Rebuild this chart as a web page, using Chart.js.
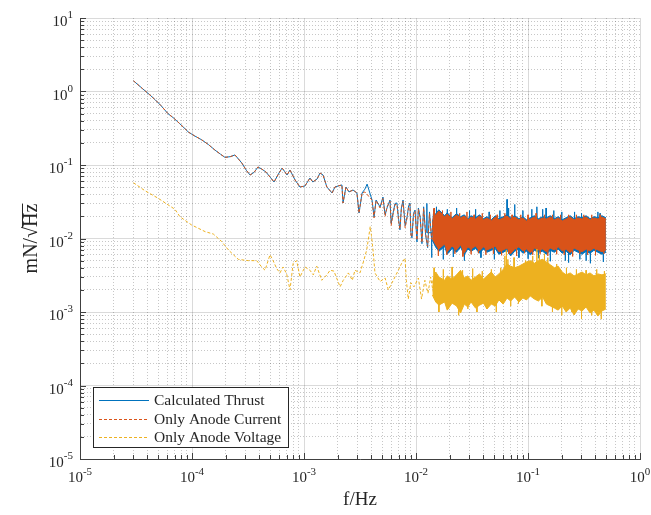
<!DOCTYPE html>
<html>
<head>
<meta charset="utf-8">
<script src="https://cdn.jsdelivr.net/npm/chart.js@4.4.0/dist/chart.umd.min.js"></script>
<style>
html, body { margin: 0; padding: 0; background: #fff; }
canvas { display: block; }
</style>
</head>
<body>
<canvas id="psd" width="651" height="515"></canvas>
<script>
// names and colours of the three curves
const seriesNames = ['Calculated Thrust', 'Only Anode Current', 'Only Anode Voltage'];
const seriesColors = ['#0072BD', '#D95319', '#EDB120'];

// axes: decades and the exponent shown above each "10"
const xDecades = [1e-5, 1e-4, 1e-3, 1e-2, 1e-1, 1];
const xTickExps = ['-5', '-4', '-3', '-2', '-1', '0'];
const yDecades = [1e-5, 1e-4, 1e-3, 1e-2, 1e-1, 1, 10];
const yTickExps = ['-5', '-4', '-3', '-2', '-1', '0', '1'];
const minorSteps = [2, 3, 4, 5, 6, 7, 8, 9];

// Calculated Thrust, low frequency part (Hz, mN/sqrt(Hz))
const thrustF = [3.0e-5, 3.6e-5, 4.2e-5, 4.7e-5, 5.3e-5, 6.1e-5, 6.8e-5, 7.7e-5, 8.5e-5, 9.3e-5,
  1.05e-4, 1.22e-4, 1.4e-4, 1.6e-4, 1.8e-4, 1.97e-4, 2.2e-4, 2.42e-4, 2.79e-4, 3.05e-4,
  3.3e-4, 3.6e-4, 3.88e-4, 4.2e-4, 4.58e-4, 5.0e-4, 5.4e-4, 5.9e-4, 6.37e-4, 6.7e-4,
  7.05e-4, 7.5e-4, 8.32e-4, 9.2e-4, 1.02e-3, 1.13e-3, 1.2e-3, 1.31e-3, 1.39e-3, 1.48e-3,
  1.6e-3, 1.78e-3, 1.89e-3, 2.01e-3, 2.18e-3, 2.23e-3, 2.37e-3, 2.52e-3, 2.74e-3, 2.97e-3,
  3.1e-3, 3.3e-3, 3.5e-3, 3.66e-3, 3.8e-3, 4.05e-3, 4.22e-3, 4.4e-3, 4.78e-3, 5.07e-3,
  5.3e-3, 5.51e-3, 5.86e-3, 6.0e-3, 6.24e-3, 6.5e-3, 6.76e-3, 7.0e-3, 7.19e-3, 7.4e-3,
  7.66e-3, 8.0e-3, 8.32e-3, 8.6e-3, 8.83e-3, 9.0e-3, 9.2e-3, 9.5e-3, 9.8e-3, 1.02e-2,
  1.05e-2, 1.09e-2, 1.13e-2, 1.17e-2, 1.22e-2, 1.27e-2, 1.32e-2, 1.38e-2, 1.44e-2, 1.5e-2,
  1.57e-2, 1.65e-2, 1.72e-2];
const thrustV = [1.40, 1.10, 0.90, 0.77, 0.64, 0.50, 0.44, 0.37, 0.32, 0.28,
  0.25, 0.22, 0.19, 0.16, 0.14, 0.127, 0.13, 0.137, 0.106, 0.085,
  0.073, 0.080, 0.094, 0.088, 0.080, 0.068, 0.0587, 0.075, 0.091, 0.082,
  0.073, 0.0855, 0.0625, 0.0502, 0.0518, 0.0665, 0.0587, 0.0646, 0.0778, 0.0731,
  0.0502, 0.0416, 0.0502, 0.0518, 0.0535, 0.0304, 0.0502, 0.043, 0.0457, 0.0416,
  0.0222, 0.0416, 0.047, 0.055, 0.0457, 0.0334, 0.0196, 0.0334, 0.0268, 0.0367,
  0.021, 0.026, 0.0334, 0.016, 0.0222, 0.030, 0.0304, 0.018, 0.0131, 0.026,
  0.0334, 0.015, 0.0196, 0.028, 0.0304, 0.012, 0.0102, 0.022, 0.0244, 0.009,
  0.026, 0.0196, 0.0085, 0.027, 0.011, 0.0075, 0.023, 0.0095, 0.025, 0.008,
  0.021, 0.0072, 0.020];

// Only Anode Current, low frequency part
const currentF = [3.0e-5, 3.6e-5, 4.2e-5, 4.7e-5, 5.3e-5, 6.1e-5, 6.8e-5, 7.7e-5, 8.5e-5, 9.3e-5,
  1.05e-4, 1.22e-4, 1.4e-4, 1.6e-4, 1.8e-4, 1.97e-4, 2.2e-4, 2.42e-4, 2.79e-4, 3.05e-4,
  3.3e-4, 3.6e-4, 3.88e-4, 4.2e-4, 4.58e-4, 5.0e-4, 5.4e-4, 5.9e-4, 6.37e-4, 6.7e-4,
  7.05e-4, 7.5e-4, 8.32e-4, 9.2e-4, 1.02e-3, 1.13e-3, 1.2e-3, 1.31e-3, 1.39e-3, 1.48e-3,
  1.6e-3, 1.78e-3, 1.89e-3, 2.01e-3, 2.18e-3, 2.23e-3, 2.37e-3, 2.52e-3, 2.74e-3, 2.97e-3,
  3.1e-3, 3.3e-3, 3.5e-3, 3.66e-3, 3.8e-3, 4.05e-3, 4.22e-3, 4.4e-3, 4.78e-3, 5.07e-3,
  5.3e-3, 5.51e-3, 5.86e-3, 6.0e-3, 6.24e-3, 6.5e-3, 6.76e-3, 7.0e-3, 7.19e-3, 7.4e-3,
  7.66e-3, 8.0e-3, 8.32e-3, 8.6e-3, 8.83e-3, 9.0e-3, 9.2e-3, 9.5e-3, 9.8e-3, 1.02e-2,
  1.05e-2, 1.09e-2, 1.13e-2, 1.17e-2, 1.22e-2, 1.27e-2, 1.32e-2, 1.38e-2, 1.44e-2, 1.5e-2,
  1.57e-2, 1.65e-2, 1.72e-2];
const currentV = [1.40, 1.10, 0.90, 0.77, 0.64, 0.50, 0.44, 0.37, 0.32, 0.28,
  0.25, 0.22, 0.19, 0.16, 0.14, 0.127, 0.13, 0.137, 0.106, 0.085,
  0.073, 0.080, 0.094, 0.088, 0.080, 0.068, 0.0587, 0.075, 0.091, 0.082,
  0.073, 0.0855, 0.0625, 0.0502, 0.0518, 0.0665, 0.0587, 0.0646, 0.0778, 0.0731,
  0.0502, 0.0416, 0.0502, 0.0518, 0.0535, 0.0304, 0.0502, 0.043, 0.0457, 0.0416,
  0.0222, 0.0416, 0.043, 0.040, 0.037, 0.0334, 0.0190, 0.0330, 0.0260, 0.0350,
  0.020, 0.027, 0.0320, 0.015, 0.0215, 0.029, 0.0290, 0.017, 0.0135, 0.025,
  0.0320, 0.014, 0.0190, 0.027, 0.0290, 0.011, 0.0105, 0.021, 0.0235, 0.0095,
  0.025, 0.0190, 0.0088, 0.026, 0.0115, 0.0078, 0.022, 0.0098, 0.024, 0.0083,
  0.020, 0.0075, 0.019];

// Only Anode Voltage, low frequency part
const voltageF = [3.0e-5, 3.8e-5, 5.0e-5, 7.05e-5, 7.8e-5, 9.9e-5, 1.31e-4, 1.55e-4, 1.84e-4, 2.11e-4,
  2.59e-4, 3.18e-4, 3.78e-4, 4.19e-4, 4.49e-4, 4.97e-4, 5.3e-4, 5.7e-4, 6.1e-4, 6.5e-4,
  7.0e-4, 7.5e-4, 8.0e-4, 8.6e-4, 9.2e-4, 1.02e-3, 1.13e-3, 1.21e-3, 1.30e-3, 1.44e-3,
  1.60e-3, 1.71e-3, 1.85e-3, 2.10e-3, 2.24e-3, 2.49e-3, 2.7e-3, 2.85e-3, 3.16e-3, 3.39e-3,
  3.63e-3, 3.75e-3, 3.9e-3, 4.0e-3, 4.16e-3, 4.30e-3, 4.78e-3, 5.3e-3, 5.66e-3, 6.27e-3,
  6.95e-3, 7.45e-3, 7.98e-3, 8.2e-3, 8.53e-3, 9.0e-3, 9.6e-3, 1.05e-2, 1.12e-2, 1.2e-2,
  1.28e-2, 1.35e-2, 1.42e-2];
const voltageV = [0.0574, 0.0447, 0.0352, 0.0249, 0.0198, 0.0153, 0.0124, 0.0115, 0.0091, 0.0070,
  0.0052, 0.0050, 0.0050, 0.0041, 0.0037, 0.0060, 0.0050, 0.0039, 0.0034, 0.0041,
  0.0033, 0.0020, 0.0046, 0.0050, 0.0030, 0.0041, 0.0037, 0.0032, 0.0042, 0.0027,
  0.0032, 0.0037, 0.0036, 0.0022, 0.0027, 0.0034, 0.0027, 0.0037, 0.0034, 0.0048,
  0.0070, 0.0096, 0.0145, 0.0110, 0.0063, 0.0034, 0.0026, 0.0029, 0.0020, 0.0027,
  0.0037, 0.0046, 0.0054, 0.0027, 0.0015, 0.0025, 0.0022, 0.0029, 0.0015, 0.0027,
  0.0018, 0.0030, 0.0019];

// dense high frequency part: upper and lower edges of each band
const bandF = [0.014, 0.015, 0.016, 0.018, 0.019, 0.021, 0.023, 0.025, 0.027, 0.029,
  0.031, 0.034, 0.037, 0.040, 0.043, 0.047, 0.051, 0.055, 0.060, 0.065,
  0.070, 0.076, 0.083, 0.090, 0.097, 0.105, 0.114, 0.124, 0.135, 0.146,
  0.158, 0.172, 0.186, 0.202, 0.219, 0.238, 0.258, 0.280, 0.304, 0.330,
  0.358, 0.388, 0.421, 0.457, 0.496];
const thrustHi = [0.0170, 0.0218, 0.0246, 0.0204, 0.0224, 0.0192, 0.0218, 0.0198, 0.0210, 0.0186,
  0.0204, 0.0192, 0.0210, 0.0186, 0.0198, 0.0180, 0.0204, 0.0186, 0.0198, 0.0210,
  0.0192, 0.0204, 0.0186, 0.0198, 0.0180, 0.0192, 0.0204, 0.0186, 0.0198, 0.0192,
  0.0204, 0.0186, 0.0198, 0.0180, 0.0192, 0.0204, 0.0186, 0.0198, 0.0192, 0.0204,
  0.0186, 0.0198, 0.0192, 0.0204, 0.0192];
const thrustLo = [0.0095, 0.0076, 0.0067, 0.0078, 0.0061, 0.0073, 0.0065, 0.0076, 0.0060, 0.0072,
  0.0067, 0.0073, 0.0063, 0.0072, 0.0065, 0.0069, 0.0073, 0.0061, 0.0065, 0.0069,
  0.0058, 0.0067, 0.0072, 0.0063, 0.0067, 0.0060, 0.0069, 0.0065, 0.0067, 0.0061,
  0.0069, 0.0065, 0.0072, 0.0063, 0.0067, 0.0060, 0.0069, 0.0065, 0.0061, 0.0067,
  0.0063, 0.0069, 0.0065, 0.0061, 0.0065];
const currentHi = [0.0165, 0.0209, 0.0237, 0.0196, 0.0215, 0.0184, 0.0209, 0.0190, 0.0202, 0.0179,
  0.0196, 0.0184, 0.0202, 0.0179, 0.0190, 0.0173, 0.0196, 0.0179, 0.0190, 0.0202,
  0.0184, 0.0196, 0.0179, 0.0190, 0.0173, 0.0184, 0.0196, 0.0179, 0.0190, 0.0184,
  0.0196, 0.0179, 0.0190, 0.0173, 0.0184, 0.0196, 0.0179, 0.0190, 0.0184, 0.0196,
  0.0179, 0.0190, 0.0184, 0.0196, 0.0184];
const currentLo = [0.0100, 0.0082, 0.0072, 0.0084, 0.0066, 0.0079, 0.0070, 0.0082, 0.0064, 0.0077,
  0.0072, 0.0079, 0.0068, 0.0077, 0.0070, 0.0074, 0.0079, 0.0066, 0.0070, 0.0074,
  0.0062, 0.0072, 0.0077, 0.0068, 0.0072, 0.0064, 0.0074, 0.0070, 0.0072, 0.0066,
  0.0074, 0.0070, 0.0077, 0.0068, 0.0072, 0.0064, 0.0074, 0.0070, 0.0066, 0.0072,
  0.0068, 0.0074, 0.0070, 0.0066, 0.0070];
const voltageHi = [0.0025, 0.0035, 0.0030, 0.0027, 0.0031, 0.0028, 0.0032, 0.0037, 0.0029, 0.0031,
  0.0027, 0.0030, 0.0033, 0.0028, 0.0031, 0.0035, 0.0030, 0.0033, 0.0038, 0.0045,
  0.0042, 0.0040, 0.0042, 0.0045, 0.0048, 0.0050, 0.0046, 0.0050, 0.0052, 0.0048,
  0.0044, 0.0040, 0.0042, 0.0035, 0.0032, 0.0034, 0.0031, 0.0033, 0.0035, 0.0032,
  0.0034, 0.0031, 0.0033, 0.0032, 0.0033];
const voltageLo = [0.00170, 0.00137, 0.00124, 0.00137, 0.00106, 0.00132, 0.00121, 0.00097, 0.00128, 0.00117,
  0.00137, 0.00113, 0.00124, 0.00132, 0.00110, 0.00128, 0.00121, 0.00146, 0.00128, 0.00155,
  0.00141, 0.00160, 0.00137, 0.00155, 0.00146, 0.00165, 0.00150, 0.00141, 0.00160, 0.00128,
  0.00121, 0.00113, 0.00106, 0.00121, 0.00100, 0.00113, 0.00091, 0.00110, 0.00103, 0.00117,
  0.00097, 0.00106, 0.00088, 0.00103, 0.00110];

// single spikes sticking out of each band, drawn from the band middle
const thrustSpikeBase = 0.012;
const thrustSpikeF = [0.0125, 0.0138, 0.0152, 0.0175, 0.019, 0.0215, 0.023, 0.027, 0.03, 0.034,
  0.038, 0.045, 0.05, 0.056, 0.065, 0.067, 0.076, 0.083, 0.09, 0.1,
  0.108, 0.12, 0.124, 0.135, 0.145, 0.158, 0.17, 0.2, 0.215, 0.23,
  0.26, 0.29, 0.3, 0.33, 0.36, 0.42, 0.44, 0.47];
const thrustSpikeV = [0.030, 0.0055, 0.027, 0.0052, 0.025, 0.0056, 0.026, 0.0050, 0.024, 0.025,
  0.0055, 0.023, 0.0052, 0.024, 0.034, 0.026, 0.029, 0.0055, 0.024, 0.0053,
  0.025, 0.027, 0.0054, 0.025, 0.026, 0.0049, 0.024, 0.023, 0.0050, 0.0047,
  0.023, 0.0052, 0.022, 0.0050, 0.0046, 0.023, 0.022, 0.0048];
const currentSpikeBase = 0.012;
const currentSpikeF = [0.0145, 0.0158, 0.0172, 0.0188, 0.0205, 0.0222, 0.0245, 0.0262, 0.0285, 0.031,
  0.033, 0.036, 0.039, 0.042, 0.046, 0.049, 0.053, 0.058, 0.062, 0.067,
  0.072, 0.079, 0.086, 0.093, 0.1, 0.11, 0.118, 0.128, 0.14, 0.15,
  0.165, 0.18, 0.195, 0.21, 0.23, 0.25, 0.27, 0.29, 0.315, 0.34,
  0.37, 0.4, 0.44, 0.475];
const currentSpikeV = [0.026, 0.0058, 0.024, 0.0060, 0.023, 0.0062, 0.022, 0.0057, 0.023, 0.0061,
  0.021, 0.0063, 0.022, 0.0060, 0.021, 0.0062, 0.021, 0.0059, 0.022, 0.0062,
  0.021, 0.0058, 0.021, 0.0063, 0.021, 0.0060, 0.022, 0.0062, 0.021, 0.0058,
  0.021, 0.0061, 0.021, 0.0060, 0.021, 0.0057, 0.021, 0.0062, 0.021, 0.0060,
  0.021, 0.0059, 0.021, 0.0062];
const voltageSpikeBase = 0.0022;
const voltageSpikeF = [0.0145, 0.016, 0.0175, 0.0195, 0.021, 0.024, 0.026, 0.029, 0.032, 0.035,
  0.039, 0.043, 0.047, 0.052, 0.057, 0.062, 0.064, 0.066, 0.07, 0.075,
  0.082, 0.095, 0.11, 0.12, 0.126, 0.133, 0.14, 0.15, 0.165, 0.18,
  0.2, 0.22, 0.245, 0.27, 0.3, 0.33, 0.37, 0.41, 0.45, 0.48];
const voltageSpikeV = [0.0040, 0.0010, 0.0038, 0.0011, 0.0041, 0.0009, 0.0037, 0.0011, 0.0039, 0.0010,
  0.0036, 0.0011, 0.0038, 0.0010, 0.0040, 0.0058, 0.0070, 0.0052, 0.0012, 0.0055,
  0.0013, 0.0050, 0.0058, 0.0072, 0.0060, 0.0012, 0.0062, 0.0055, 0.0010, 0.0045,
  0.0009, 0.0040, 0.0010, 0.0038, 0.0008, 0.0037, 0.0009, 0.0038, 0.0008, 0.0036];

const serif = "'Liberation Serif', 'Times New Roman', serif";
const inkColor = '#262626';

function points(fs, vs) {
  return fs.map((f, i) => ({x: f, y: vs[i]}));
}

function spikePoints(fs, vs, base) {
  return fs.flatMap((f, i) => [
    {x: f * 0.996, y: base}, {x: f, y: vs[i]}, {x: f * 1.004, y: base}
  ]);
}

function buildTicks(decades) {
  const out = [];
  decades.forEach((d, i) => {
    out.push({value: d, dec: true});
    if (i < decades.length - 1) {
      minorSteps.forEach(m => out.push({value: d * m, dec: false}));
    }
  });
  return out;
}

function lineSet(label, data, color, dash, order) {
  return {
    label: label, data: data, borderColor: color, borderWidth: 1,
    borderDash: dash, pointRadius: 0, fill: false, order: order
  };
}

function bandSet(fs, vs, color, fill, order) {
  return {
    data: points(fs, vs), borderColor: color, backgroundColor: color, borderWidth: 1,
    pointRadius: 0, fill: fill, order: order
  };
}

const gridColor = c => (c.tick && c.tick.dec) ? 'rgba(38,38,38,0.17)' : 'rgba(38,38,38,0.26)';
const gridDash = c => (c.tick && !c.tick.dec) ? [1, 2] : [];

// tick marks pointing into the plot, like the original figure
const innerTicks = {
  id: 'innerTicks',
  afterDatasetsDraw(chart) {
    const {ctx, chartArea: a, scales: {x, y}} = chart;
    ctx.save();
    ctx.strokeStyle = '#404040';
    ctx.lineWidth = 1;
    ctx.beginPath();
    x.ticks.forEach(t => {
      const p = Math.round(x.getPixelForValue(t.value)) + 0.5;
      ctx.moveTo(p, a.bottom);
      ctx.lineTo(p, a.bottom - (t.dec ? 6 : 4));
    });
    y.ticks.forEach(t => {
      const p = Math.round(y.getPixelForValue(t.value)) + 0.5;
      ctx.moveTo(a.left, p);
      ctx.lineTo(a.left + (t.dec ? 6 : 4), p);
    });
    ctx.stroke();
    ctx.restore();
  }
};

// "10" with a raised exponent under each decade
const powerLabels = {
  id: 'powerLabels',
  afterDraw(chart) {
    const {ctx, chartArea: a, scales: {x, y}} = chart;
    const big = '15px ' + serif, small = '11px ' + serif;
    ctx.save();
    ctx.fillStyle = inkColor;
    ctx.textAlign = 'left';
    ctx.textBaseline = 'alphabetic';
    ctx.font = big;
    const wb = ctx.measureText('10').width;
    xDecades.forEach((d, i) => {
      ctx.font = small;
      const ws = ctx.measureText(xTickExps[i]).width;
      const left = x.getPixelForValue(d) - (wb + ws) / 2;
      ctx.font = big;
      ctx.fillText('10', left, a.bottom + 23);
      ctx.font = small;
      ctx.fillText(xTickExps[i], left + wb, a.bottom + 16);
    });
    yDecades.forEach((d, i) => {
      ctx.font = small;
      const ws = ctx.measureText(yTickExps[i]).width;
      const right = a.left - 7;
      const py = y.getPixelForValue(d);
      ctx.fillText(yTickExps[i], right - ws, py);
      ctx.font = big;
      ctx.fillText('10', right - ws - wb, py + 8);
    });
    ctx.restore();
  }
};

// legend box in the lower left corner of the axes
const boxLegend = {
  id: 'boxLegend',
  afterDraw(chart) {
    const {ctx} = chart;
    const items = chart.data.datasets.filter(d => d.label);
    const left = 93, top = 387, w = 195, h = 60;
    ctx.save();
    ctx.fillStyle = '#fff';
    ctx.fillRect(left, top, w, h);
    ctx.strokeStyle = inkColor;
    ctx.lineWidth = 1;
    ctx.strokeRect(left + 0.5, top + 0.5, w, h);
    ctx.font = '15.5px ' + serif;
    ctx.textBaseline = 'middle';
    items.forEach((d, i) => {
      const yy = top + 13 + i * 18.5;
      ctx.strokeStyle = d.borderColor;
      ctx.setLineDash(d.borderDash || []);
      ctx.beginPath();
      ctx.moveTo(left + 6, Math.round(yy) + 0.5);
      ctx.lineTo(left + 56, Math.round(yy) + 0.5);
      ctx.stroke();
      ctx.setLineDash([]);
      ctx.fillStyle = inkColor;
      ctx.fillText(d.label, left + 61, yy + 1);
    });
    ctx.restore();
  }
};

// bar over "Hz" that completes the square root sign of the y title
const rootBar = {
  id: 'rootBar',
  afterDraw(chart) {
    const y = chart.scales.y;
    const t = y.options.title;
    const size = t.font.size;
    const {ctx} = chart;
    ctx.save();
    ctx.font = size + 'px ' + serif;
    const total = ctx.measureText(t.text).width;
    const hz = ctx.measureText('Hz').width;
    const cx = y.left + t.padding.top + size * 1.2 / 2;
    const cy = (y.top + y.bottom) / 2;
    const x0 = Math.round(cx - size * 0.5) + 0.5;
    ctx.strokeStyle = inkColor;
    ctx.lineWidth = 1;
    ctx.beginPath();
    ctx.moveTo(x0, cy - total / 2);
    ctx.lineTo(x0, cy - total / 2 + hz + 1);
    ctx.stroke();
    ctx.restore();
  }
};

new Chart(document.getElementById('psd'), {
  type: 'line',
  data: {
    datasets: [
      lineSet(seriesNames[0], points(thrustF, thrustV), seriesColors[0], [], 5),
      bandSet(bandF, thrustHi, seriesColors[0], '+1', 6),
      bandSet(bandF, thrustLo, seriesColors[0], false, 6),
      lineSet(null, spikePoints(thrustSpikeF, thrustSpikeV, thrustSpikeBase), seriesColors[0], [], 6),
      lineSet(seriesNames[1], points(currentF, currentV), seriesColors[1], [3, 2], 3),
      bandSet(bandF, currentHi, seriesColors[1], '+1', 4),
      bandSet(bandF, currentLo, seriesColors[1], false, 4),
      lineSet(null, spikePoints(currentSpikeF, currentSpikeV, currentSpikeBase), seriesColors[1], [], 4),
      lineSet(seriesNames[2], points(voltageF, voltageV), seriesColors[2], [3, 2], 1),
      bandSet(bandF, voltageHi, seriesColors[2], '+1', 2),
      bandSet(bandF, voltageLo, seriesColors[2], false, 2),
      lineSet(null, spikePoints(voltageSpikeF, voltageSpikeV, voltageSpikeBase), seriesColors[2], [], 2)
    ]
  },
  options: {
    responsive: false,
    animation: false,
    events: [],
    layout: { padding: { top: 18, right: 11, left: 0, bottom: 0 } },
    plugins: {
      legend: { display: false },
      tooltip: { enabled: false }
    },
    scales: {
      x: {
        type: 'logarithmic',
        min: 1e-5,
        max: 1,
        afterBuildTicks: s => { s.ticks = buildTicks(xDecades); },
        afterFit: s => { s.height = 56; s.paddingLeft = 0; s.paddingRight = 0; },
        ticks: { display: false, autoSkip: false },
        grid: { color: gridColor, drawTicks: false },
        border: { color: '#404040', dash: gridDash },
        title: {
          display: true, text: 'f/Hz', color: inkColor,
          font: { family: serif, size: 19 }, padding: { top: 0, bottom: 4 }
        }
      },
      y: {
        type: 'logarithmic',
        min: 1e-5,
        max: 10,
        afterBuildTicks: s => { s.ticks = buildTicks(yDecades); },
        afterFit: s => { s.width = 80; s.paddingTop = 0; s.paddingBottom = 0; },
        ticks: { display: false, autoSkip: false },
        grid: { color: gridColor, drawTicks: false },
        border: { color: '#404040', dash: gridDash },
        title: {
          display: true, text: 'mN/\u221AHz', color: inkColor,
          font: { family: serif, size: 20 }, padding: { top: 20, bottom: 0 }
        }
      }
    }
  },
  plugins: [innerTicks, powerLabels, boxLegend, rootBar]
});
</script>
</body>
</html>
